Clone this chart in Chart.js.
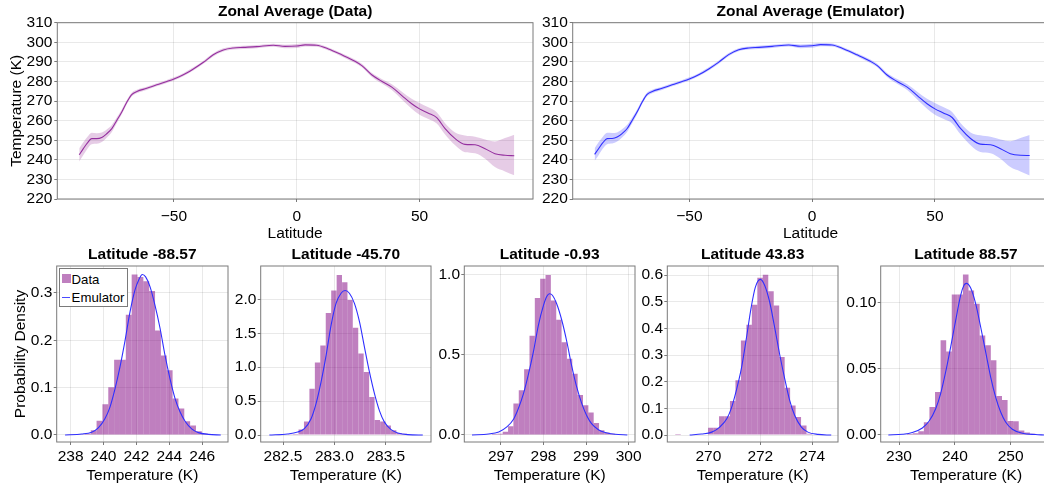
<!DOCTYPE html>
<html>
<head>
<meta charset="utf-8">
<script src="https://cdn.jsdelivr.net/npm/chart.js@4.4.0/dist/chart.umd.min.js"></script>
<style>
html,body{margin:0;padding:0;background:#fff;width:1044px;height:489px;overflow:hidden;position:relative;}
canvas{position:absolute;}
#legend{position:absolute;left:59.3px;top:268.3px;width:67px;height:36.4px;border:1px solid #7a7a7a;background:#fff;
  font-family:'Liberation Sans',Arial,Helvetica,sans-serif;font-size:13.2px;color:#000;}
#legend span{position:absolute;white-space:nowrap;}
</style>
</head>
<body>
<canvas id="zData" width="536" height="245" style="left:0px;top:0px"></canvas>
<canvas id="zEmu" width="515" height="245" style="left:536px;top:0px"></canvas>
<canvas id="h1" width="240" height="249" style="left:0px;top:240px"></canvas>
<canvas id="h2" width="215" height="249" style="left:225px;top:240px"></canvas>
<canvas id="h3" width="220" height="249" style="left:428px;top:240px"></canvas>
<canvas id="h4" width="220" height="249" style="left:631px;top:240px"></canvas>
<canvas id="h5" width="224" height="249" style="left:840px;top:240px"></canvas>
<div id="legend">
  <span style="left:1.5px;top:5px;width:9px;height:9px;background:rgba(128,0,128,0.5)"></span>
  <span style="left:11.3px;top:1.5px;line-height:17px">Data</span>
  <span style="left:1.5px;top:27.3px;width:8px;height:1.3px;background:#4a4aff"></span>
  <span style="left:11.3px;top:19.5px;line-height:17px">Emulator</span>
</div>
<script>
// ----------------- DATA -----------------
// Zonal averages (top row)
const latitudes = [-88.57, -86.9, -85.3, -83.5, -81.4, -79.4, -77.4, -75.3, -73.3, -71.3,
  -69.2, -67.2, -65.1, -61.1, -57.0, -52.9, -50.0, -46.2, -42.1, -38.0,
  -34.0, -29.9, -25.8, -21.7, -16.3, -9.5, -4.8, 0, 3.4, 8.1,
  12.9, 18.3, 23.7, 26.5, 30.5, 34.6, 38.7, 42.8, 46.8, 50.0,
  53.6, 57.0, 60.4, 64.5, 68.5, 72.6, 76.7, 80.7, 84.8, 88.57];
const dataMean = [242.6, 245.7, 248.5, 250.8, 250.8, 251.4, 253.3, 255.9, 260.1, 264.3,
  269.4, 273.3, 274.9, 276.5, 278.3, 280.0, 281.3, 283.4, 286.4, 289.8,
  293.6, 296.1, 297.1, 297.4, 297.8, 298.5, 297.9, 298.1, 298.7, 298.5,
  296.6, 293.6, 290.3, 288.1, 283.4, 280.1, 277.1, 272.8, 268.6, 266.0,
  263.8, 261.5, 255.9, 250.8, 247.9, 247.7, 245.7, 243.1, 242.3, 242.1];
const dataUpper = [245.9, 249.0, 251.6, 253.8, 253.6, 253.9, 255.5, 257.8, 261.6, 265.6,
  270.5, 274.3, 275.8, 277.3, 279.1, 280.8, 282.1, 284.2, 287.2, 290.6,
  294.4, 296.9, 297.9, 298.2, 298.6, 299.3, 298.8, 299.1, 299.5, 299.3,
  297.4, 294.4, 291.2, 289.0, 284.4, 281.3, 278.6, 274.8, 271.2, 269.0,
  266.8, 264.3, 258.7, 253.9, 252.4, 251.8, 250.4, 249.4, 251.1, 252.8];
const dataLower = [239.2, 242.4, 245.5, 248.0, 248.2, 249.1, 251.3, 254.2, 258.7, 263.1,
  268.4, 272.3, 274.0, 275.7, 277.5, 279.2, 280.5, 282.6, 285.6, 289.0,
  292.8, 295.3, 296.3, 296.6, 297.0, 297.7, 296.9, 297.1, 297.9, 297.7,
  295.8, 292.8, 289.4, 287.2, 282.4, 278.9, 275.6, 270.8, 266.1, 263.0,
  260.8, 258.5, 252.9, 247.4, 243.9, 243.4, 240.6, 236.3, 234.1, 232.1];
const emuMean = [242.8, 245.8, 248.6, 250.8, 250.9, 251.6, 253.4, 256.0, 260.1, 264.4,
  269.5, 273.4, 274.9, 276.5, 278.3, 280.0, 281.3, 283.4, 286.4, 289.9,
  293.7, 296.2, 297.1, 297.4, 297.9, 298.6, 298.0, 298.2, 298.8, 298.6,
  296.6, 293.6, 290.3, 288.1, 283.3, 280.0, 277.1, 272.8, 268.6, 266.0,
  263.8, 261.6, 256.0, 250.9, 248.0, 247.7, 245.7, 243.1, 242.3, 242.2];
const emuUpper = [245.9, 249.1, 251.7, 253.8, 253.7, 254.0, 255.6, 257.9, 261.6, 265.7,
  270.6, 274.4, 275.8, 277.3, 279.1, 280.8, 282.1, 284.2, 287.2, 290.7,
  294.5, 297.0, 297.9, 298.2, 298.7, 299.4, 298.9, 299.2, 299.6, 299.4,
  297.4, 294.4, 291.2, 289.0, 284.3, 281.2, 278.6, 274.8, 271.2, 269.0,
  266.8, 264.4, 258.8, 254.0, 252.5, 251.8, 250.4, 249.5, 251.1, 252.7];
const emuLower = [239.5, 242.5, 245.6, 248.0, 248.3, 249.3, 251.4, 254.3, 258.7, 263.2,
  268.5, 272.4, 274.0, 275.7, 277.5, 279.2, 280.5, 282.6, 285.6, 289.1,
  292.9, 295.4, 296.3, 296.6, 297.1, 297.8, 297.0, 297.2, 298.0, 297.8,
  295.8, 292.8, 289.4, 287.2, 282.3, 278.8, 275.6, 270.8, 266.1, 263.0,
  260.8, 258.6, 253.0, 247.5, 244.0, 243.4, 240.6, 236.3, 234.1, 232.0];

// Histogram panels (bottom row)
const histTitles = ['Latitude -88.57', 'Latitude -45.70', 'Latitude -0.93', 'Latitude 43.83', 'Latitude 88.57'];

const h1BinCenters = [237.975, 238.331, 238.687, 239.042, 239.398, 239.753, 240.109, 240.465, 240.821, 241.176,
  241.532, 241.888, 242.243, 242.599, 242.955, 243.310, 243.666, 244.022, 244.378, 244.733,
  245.089, 245.445, 245.800, 246.156];
const h1Density = [0.0014, 0.0014, 0.0014, 0.0028, 0.010, 0.030, 0.065, 0.101, 0.159, 0.159,
  0.254, 0.339, 0.334, 0.325, 0.304, 0.221, 0.168, 0.137, 0.077, 0.056,
  0.029, 0.020, 0.008, 0.003];
const h1EmuT = [237.66, 238.67, 239.28, 239.68, 240.09, 240.39, 240.70, 241.00, 241.31, 241.61,
  241.91, 242.16, 242.36, 242.56, 242.83, 243.13, 243.44, 243.74, 244.04, 244.35,
  244.65, 244.96, 245.36, 245.77, 246.38, 247.13];
const h1EmuPdf = [0.0, 0.002, 0.006, 0.015, 0.035, 0.059, 0.098, 0.144, 0.200, 0.260,
  0.306, 0.329, 0.339, 0.334, 0.313, 0.274, 0.225, 0.168, 0.119, 0.077,
  0.049, 0.029, 0.013, 0.005, 0.0014, 0.0];

const h2BinCenters = [282.571, 282.624, 282.677, 282.730, 282.783, 282.836, 282.889, 282.942, 282.995, 283.048,
  283.101, 283.153, 283.206, 283.259, 283.312, 283.365, 283.418, 283.471, 283.524, 283.577,
  283.630, 283.682];
const h2Density = [0.01, 0.015, 0.08, 0.20, 0.68, 1.07, 1.32, 1.80, 2.13, 2.36,
  2.25, 1.99, 1.58, 1.20, 0.93, 0.56, 0.22, 0.20, 0.14, 0.07,
  0.03, 0.02];
const h2EmuT = [282.367, 282.545, 282.643, 282.708, 282.773, 282.821, 282.870, 282.919, 282.968, 283.016,
  283.065, 283.104, 283.146, 283.195, 283.244, 283.292, 283.341, 283.390, 283.438, 283.487,
  283.552, 283.617, 283.714, 283.860];
const h2EmuPdf = [0, 0.015, 0.044, 0.093, 0.24, 0.46, 0.78, 1.17, 1.62, 1.94,
  2.09, 2.13, 2.09, 1.94, 1.67, 1.30, 0.93, 0.61, 0.36, 0.19,
  0.079, 0.03, 0.005, 0];

const h3BinCenters = [296.853, 296.979, 297.105, 297.230, 297.356, 297.482, 297.608, 297.734, 297.859, 297.985,
  298.111, 298.237, 298.363, 298.488, 298.614, 298.740, 298.866, 298.992, 299.117, 299.243,
  299.369, 299.495, 299.621];
const h3Density = [0.006, 0.008, 0.02, 0.054, 0.196, 0.28, 0.41, 0.62, 0.856, 0.977,
  1.0, 0.84, 0.72, 0.58, 0.477, 0.383, 0.25, 0.185, 0.14, 0.075,
  0.03, 0.015, 0.008];
const h3EmuT = [296.32, 296.71, 296.95, 297.14, 297.30, 297.41, 297.53, 297.65, 297.77, 297.88,
  298.00, 298.08, 298.14, 298.21, 298.31, 298.43, 298.55, 298.66, 298.78, 298.90,
  299.02, 299.13, 299.29, 299.45, 299.68, 299.97];
const h3EmuPdf = [0, 0.006, 0.019, 0.05, 0.10, 0.165, 0.258, 0.383, 0.529, 0.685,
  0.81, 0.867, 0.883, 0.873, 0.82, 0.717, 0.581, 0.435, 0.30, 0.196,
  0.119, 0.071, 0.033, 0.015, 0.004, 0];

const h4BinCenters = [268.832, 270.095, 270.306, 270.516, 270.727, 270.937, 271.148, 271.358, 271.569, 271.779,
  271.990, 272.200, 272.411, 272.621, 272.832, 273.042, 273.253, 273.463, 273.674, 273.884];
const h4Density = [0.004, 0.0275, 0.0275, 0.071, 0.071, 0.128, 0.206, 0.355, 0.414, 0.489,
  0.59, 0.601, 0.539, 0.486, 0.2925, 0.1775, 0.111, 0.0675, 0.036, 0.005];
const h4EmuT = [269.28, 269.74, 270.13, 270.44, 270.71, 270.88, 271.06, 271.27, 271.46, 271.65,
  271.81, 272.00, 272.17, 272.36, 272.55, 272.74, 272.94, 273.13, 273.32, 273.58,
  273.83, 274.22, 274.73];
const h4EmuPdf = [0, 0.004, 0.011, 0.03, 0.061, 0.099, 0.161, 0.249, 0.361, 0.48,
  0.555, 0.584, 0.561, 0.499, 0.405, 0.305, 0.211, 0.13, 0.074, 0.03,
  0.011, 0.0025, 0];

const h5BinCenters = [231.95, 232.95, 233.95, 234.95, 235.95, 236.95, 237.95, 238.95, 239.95, 240.95,
  241.95, 242.95, 243.95, 244.95, 245.95, 246.95, 247.95, 248.95, 249.95, 250.95,
  251.95, 252.95, 253.95];
const h5Density = [0.0008, 0.0013, 0.0028, 0.0095, 0.021, 0.0324, 0.0714, 0.063, 0.106, 0.106,
  0.121, 0.109, 0.099, 0.075, 0.0676, 0.0563, 0.0294, 0.0264, 0.0106, 0.0103,
  0.0033, 0.0018, 0.001];
const h5EmuT = [228.09, 230.6, 232.39, 234.18, 235.37, 236.57, 237.46, 238.36, 239.25, 240.15,
  241.04, 241.64, 242.06, 242.84, 243.73, 244.63, 245.52, 246.42, 247.31, 248.21,
  249.10, 250.30, 252.09, 254.48, 255.97];
const h5EmuPdf = [0, 0.0005, 0.0018, 0.0053, 0.0103, 0.0198, 0.0312, 0.0475, 0.0663, 0.0864,
  0.1053, 0.1128, 0.1143, 0.1108, 0.099, 0.0814, 0.0626, 0.0437, 0.0286, 0.0173,
  0.0098, 0.0043, 0.0013, 0.0003, 0];

// ----------------- STYLE / HELPERS -----------------
const FONT = "'Liberation Sans', Arial, Helvetica, sans-serif";
Chart.defaults.font.family = FONT;
Chart.defaults.font.size = 15.5;
Chart.defaults.color = '#000';
Chart.defaults.animation = false;

const GRID = 'rgba(0,0,0,0.085)';
const FRAME = '#7a7a7a';
const PURPLE_LINE = '#952f9f';
const PURPLE_BAND = 'rgba(128,0,128,0.2)';
const BLUE_LINE = '#2f2fff';
const BLUE_BAND = 'rgba(0,0,255,0.2)';
const BAR_FILL = 'rgba(128,0,128,0.5)';

const pts = (xs, ys) => xs.map((x, i) => ({x: x, y: ys[i]}));
const minus = s => String(s).replace('-', '\u2212');

const framePlugin = {
  id: 'frameBox',
  afterDatasetsDraw(chart) {
    const a = chart.chartArea, ctx = chart.ctx;
    ctx.save();
    ctx.strokeStyle = FRAME;
    ctx.lineWidth = 1;
    ctx.strokeRect(a.left, a.top, a.right - a.left, a.bottom - a.top);
    ctx.restore();
  }
};

function gridOpts() {
  return {color: GRID, lineWidth: 1, tickColor: FRAME, tickLength: 3, offset: false};
}

function zonal(id, title, mean, upper, lower, lineColor, bandColor, o) {
  new Chart(document.getElementById(id), {
    type: 'line',
    data: {
      datasets: [
        {data: pts(latitudes, mean), borderColor: lineColor, borderWidth: 1.1, pointRadius: 0,
         cubicInterpolationMode: 'monotone', fill: false},
        {data: pts(latitudes, upper), borderColor: 'rgba(0,0,0,0)', borderWidth: 0, pointRadius: 0,
         backgroundColor: bandColor, fill: '+1', cubicInterpolationMode: 'monotone'},
        {data: pts(latitudes, lower), borderColor: 'rgba(0,0,0,0)', borderWidth: 0, pointRadius: 0,
         fill: false, cubicInterpolationMode: 'monotone'}
      ]
    },
    options: {
      responsive: false, animation: false, events: [],
      layout: {padding: {left: 0, top: 0, bottom: 0, right: o.padR}},
      plugins: {
        legend: {display: false}, tooltip: {enabled: false},
        title: {display: true, text: title, fullSize: false, color: '#000',
                font: {size: 15.5, weight: 'bold'}, padding: {top: 2.3, bottom: 1.8}}
      },
      scales: {
        x: {
          type: 'linear', min: -97.5, max: 96.2, offset: false,
          ticks: {stepSize: 50, includeBounds: false, autoSkip: false, padding: 5.1, maxRotation: 0, callback: v => minus(v)},
          grid: gridOpts(), border: {display: false},
          title: {display: true, text: 'Latitude', padding: {top: 0, bottom: 2.2}},
          afterFit: s => { s.height = 46; }
        },
        y: {
          type: 'linear', min: 220, max: 310,
          ticks: {stepSize: 10, includeBounds: false, autoSkip: false, padding: 1.9},
          grid: gridOpts(), border: {display: false},
          title: o.yTitle ? {display: true, text: 'Temperature (K)', padding: {top: 7.6, bottom: 0}} : {display: false},
          afterFit: s => { s.width = o.yW; }
        }
      }
    },
    plugins: [framePlugin]
  });
}

function hist(id, title, centers, dens, emuT, emuPdf, o) {
  new Chart(document.getElementById(id), {
    type: 'bar',
    data: {
      datasets: [
        {type: 'line', data: pts(emuT, emuPdf), borderColor: BLUE_LINE, borderWidth: 1.1, pointRadius: 0,
         cubicInterpolationMode: 'monotone', fill: false, order: 1},
        {type: 'bar', data: pts(centers, dens), backgroundColor: BAR_FILL, borderWidth: 0,
         inflateAmount: 0, barPercentage: 1, categoryPercentage: 1, order: 2}
      ]
    },
    options: {
      responsive: false, animation: false, events: [],
      layout: {padding: {left: 0, top: 0, bottom: 0, right: o.padR}},
      plugins: {
        legend: {display: false}, tooltip: {enabled: false},
        title: {display: true, text: title, fullSize: false, color: '#000',
                font: {size: 15.5, weight: 'bold'}, padding: {top: 5.7, bottom: 1.7}}
      },
      scales: {
        x: {
          type: 'linear', min: o.xMin, max: o.xMax, offset: false,
          ticks: {stepSize: o.xStep, includeBounds: false, autoSkip: false, padding: 2.7, maxRotation: 0,
                  callback: v => Number(v).toFixed(o.xDec)},
          grid: gridOpts(), border: {display: false},
          title: {display: true, text: 'Temperature (K)', padding: {top: 0, bottom: 4.0}},
          afterFit: s => { s.height = 47; }
        },
        y: {
          type: 'linear', min: o.yMin, max: o.yMax, beginAtZero: false,
          ticks: {stepSize: o.yStep, includeBounds: false, autoSkip: false, padding: 1.3,
                  callback: v => Number(v).toFixed(o.yDec)},
          grid: gridOpts(), border: {display: false},
          title: o.yTitle ? {display: true, text: 'Probability Density', padding: {top: 11.3, bottom: 0}} : {display: false},
          afterFit: s => { s.width = o.yW; }
        }
      }
    },
    plugins: [framePlugin]
  });
}

// ----------------- CHARTS -----------------
zonal('zData', 'Zonal Average (Data)', dataMean, dataUpper, dataLower, PURPLE_LINE, PURPLE_BAND,
      {yW: 57.3, padR: 3, yTitle: true});
zonal('zEmu', 'Zonal Average (Emulator)', emuMean, emuUpper, emuLower, BLUE_LINE, BLUE_BAND,
      {yW: 36.7, padR: 2.6, yTitle: false});

hist('h1', histTitles[0], h1BinCenters, h1Density, h1EmuT, h1EmuPdf,
     {yW: 56.7, padR: 12, xMin: 237.15, xMax: 247.57, xStep: 2, xDec: 0,
      yMin: -0.0148, yMax: 0.357, yStep: 0.1, yDec: 1, yTitle: true});
hist('h2', histTitles[1], h2BinCenters, h2Density, h2EmuT, h2EmuPdf,
     {yW: 35.7, padR: 9, xMin: 282.283, xMax: 283.94, xStep: 0.5, xDec: 1,
      yMin: -0.103, yMax: 2.491, yStep: 0.5, yDec: 1, yTitle: false});
hist('h3', histTitles[2], h3BinCenters, h3Density, h3EmuT, h3EmuPdf,
     {yW: 36.3, padR: 13, xMin: 296.14, xMax: 300.15, xStep: 1, xDec: 0,
      yMin: -0.044, yMax: 1.056, yStep: 0.5, yDec: 1, yTitle: false});
hist('h4', histTitles[3], h4BinCenters, h4Density, h4EmuT, h4EmuPdf,
     {yW: 36.3, padR: 13, xMin: 268.42, xMax: 274.99, xStep: 2, xDec: 0,
      yMin: -0.026, yMax: 0.634, yStep: 0.1, yDec: 1, yTitle: false});
hist('h5', histTitles[4], h5BinCenters, h5Density, h5EmuT, h5EmuPdf,
     {yW: 40.7, padR: 12.6, xMin: 226.72, xMax: 257.3, xStep: 10, xDec: 0,
      yMin: -0.0053, yMax: 0.1274, yStep: 0.05, yDec: 2, yTitle: false});
</script>
</body>
</html>
